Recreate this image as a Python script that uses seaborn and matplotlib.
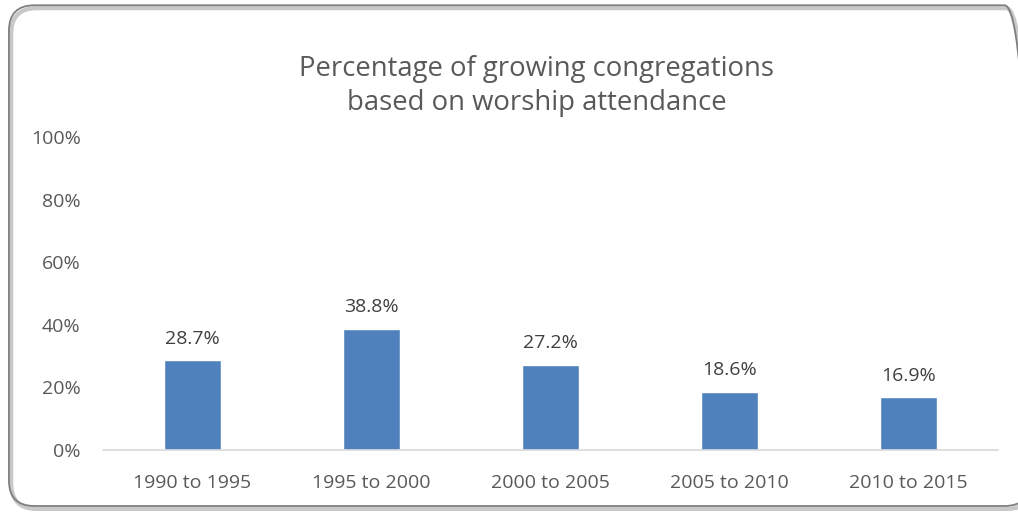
import seaborn as sns
import matplotlib.pyplot as plt
import pandas as pd
from matplotlib.patches import FancyBboxPatch
from matplotlib.ticker import PercentFormatter

# Growing congregations by period
periods = ["1990 to 1995", "1995 to 2000", "2000 to 2005", "2005 to 2010", "2010 to 2015"]
pct_growing = [28.7, 38.8, 27.2, 18.6, 16.9]
df = pd.DataFrame({"Period": periods, "Pct": pct_growing})

sns.set_style("white")
plt.rcParams["font.family"] = ["Open Sans", "DejaVu Sans"]
text_col = "#595959"

fig = plt.figure(figsize=(10.18, 5.12), dpi=100)
ax = fig.add_axes([0.101, 0.121, 0.879, 0.611])

sns.barplot(data=df, x="Period", y="Pct", color="#4F81BD", width=0.32,
            saturation=1, ax=ax)

for i, v in enumerate(pct_growing):
    ax.text(i, v + 4, f"{v:.1f}%", ha="center", va="bottom",
            fontsize=14, color="#404040")

ax.set_ylim(0, 100)
ax.set_yticks(range(0, 101, 20))
ax.yaxis.set_major_formatter(PercentFormatter(decimals=0))
ax.set_xlabel("")
ax.set_ylabel("")
ax.tick_params(axis="both", length=0, labelsize=14, colors=text_col)
ax.tick_params(axis="x", pad=17)
ax.tick_params(axis="y", pad=16)
for s in ["top", "right", "left"]:
    ax.spines[s].set_visible(False)
ax.spines["bottom"].set_color("#d9d9d9")
ax.spines["bottom"].set_linewidth(1.2)

fig.text(0.527, 0.832, "Percentage of growing congregations\nbased on worship attendance",
         ha="center", va="center", fontsize=19.8, color=text_col, linespacing=1.32)

# rounded chart frame with a light shadow, running off the right edge
box = dict(boxstyle="round,pad=0,rounding_size=0.025", transform=fig.transFigure,
           facecolor="none", mutation_aspect=1.99)
shadow = FancyBboxPatch((0.011, 0.006), 1.003, 0.978, edgecolor="#c8c8c8",
                        linewidth=3, zorder=-1, **box)
frame = FancyBboxPatch((0.0088, 0.0117), 1.003, 0.978, edgecolor="#7f7f7f",
                       linewidth=1.3, **box)
fig.patches.extend([shadow, frame])

fig.savefig("out.png", dpi=100)
